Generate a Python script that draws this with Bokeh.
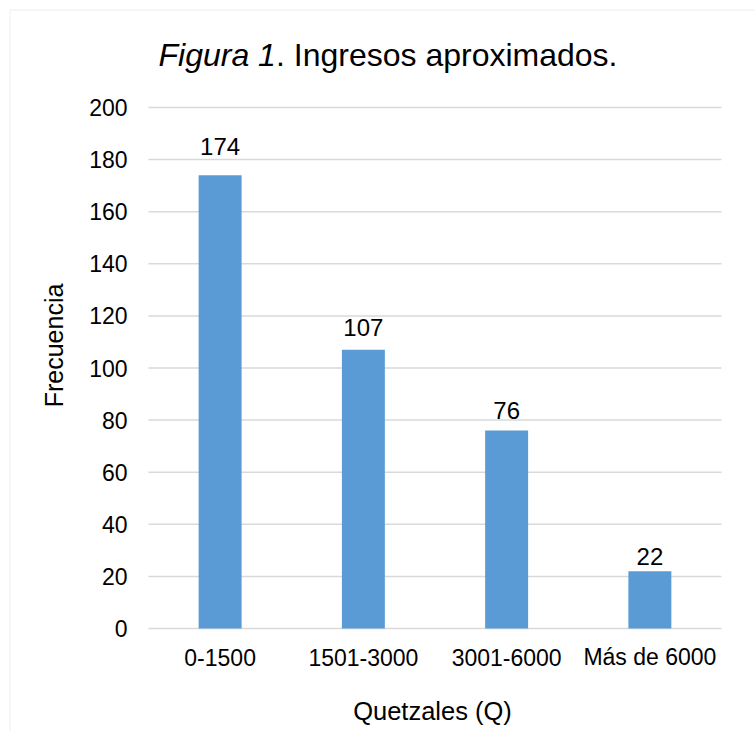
from bokeh.plotting import figure
from bokeh.models import ColumnDataSource, Range1d, Label, BoxAnnotation
from bokeh.core.properties import value
from bokeh.embed import file_html
from bokeh.resources import INLINE

# Income brackets (quetzales) and how many respondents fall in each
categories = ["0-1500", "1501-3000", "3001-6000", "Más de 6000"]
frequencies = [174, 107, 76, 22]
y_ticks = [0, 20, 40, 60, 80, 100, 120, 140, 160, 180, 200]

FONT = "Liberation Sans"
BAR_COLOR = "#5B9BD5"
GRID_COLOR = "#D9D9D9"
TEXT_COLOR = "#000000"

# Canvas size and the pixel box holding the bars (value axis 0..200)
W, H = 754, 731
LEFT, RIGHT, TOP, BOTTOM = 148, 721, 107, 628
N = len(categories)
Y_MAX = 200

# The plotting frame fills the whole canvas; ranges are widened so that
# categories 0..N and values 0..Y_MAX land on the box above.
px_per_x = (RIGHT - LEFT) / N
px_per_y = (BOTTOM - TOP) / Y_MAX
x_range = Range1d(-LEFT / px_per_x, N + (W - RIGHT) / px_per_x)
y_range = Range1d(-(H - BOTTOM) / px_per_y, Y_MAX + TOP / px_per_y)

p = figure(width=W, height=H, x_range=x_range, y_range=y_range,
           output_backend="svg", toolbar_location=None,
           x_axis_location=None, y_axis_location=None,
           min_border=0)
p.outline_line_color = None
p.background_fill_color = "white"
p.border_fill_color = "white"
p.xgrid.visible = False
p.ygrid.visible = False

centers = [i + 0.5 for i in range(N)]

# Horizontal gridlines across the category span
p.segment(x0=[0] * len(y_ticks), x1=[N] * len(y_ticks), y0=y_ticks, y1=y_ticks,
          line_color=GRID_COLOR, line_width=1.5)

# Value tick labels to the left of the gridlines
p.text(x=[0] * len(y_ticks), y=y_ticks, text=[str(t) for t in y_ticks],
       x_offset=-21, text_align="right", text_baseline="middle",
       text_font=value(FONT), text_font_size="23px", text_color=TEXT_COLOR)

# Bars; value labels sit a little higher above taller bars
bars = ColumnDataSource(data=dict(
    x=centers, freq=frequencies,
    label=[str(v) for v in frequencies],
    label_dy=[-(12.7 + 0.092 * v) for v in frequencies],
))
p.vbar(x="x", top="freq", bottom=0, width=0.3, source=bars,
       fill_color=BAR_COLOR, line_color=None)

p.text(x="x", y="freq", text="label", source=bars,
       y_offset="label_dy", text_align="center", text_baseline="middle",
       text_font=value(FONT), text_font_size="24px", text_color=TEXT_COLOR)

# Category names under the bars
p.text(x=centers, y=[0] * N, text=categories,
       y_offset=28.5, text_align="center", text_baseline="middle",
       text_font=value(FONT), text_font_size="23px", text_color=TEXT_COLOR)

# Title: italic figure number followed by the caption
# (Label screen units are pixels from the frame's bottom-left corner)
p.add_layout(Label(x=158, y=H - 54, x_units="screen", y_units="screen",
                   text="Figura 1", text_font=FONT, text_font_style="italic",
                   text_font_size="32px", text_color=TEXT_COLOR,
                   text_align="left", text_baseline="middle"))
p.add_layout(Label(x=275.5, y=H - 54, x_units="screen", y_units="screen",
                   text=". Ingresos aproximados.", text_font=FONT,
                   text_font_size="32px", text_color=TEXT_COLOR,
                   text_align="left", text_baseline="middle"))

# Axis titles
p.add_layout(Label(x=53, y=H - 345, x_units="screen", y_units="screen",
                   text="Frecuencia", angle=1.5707963, text_font=FONT,
                   text_font_size="25px", text_color=TEXT_COLOR,
                   text_align="center", text_baseline="middle"))
p.add_layout(Label(x=432, y=H - 710, x_units="screen", y_units="screen",
                   text="Quetzales (Q)", text_font=FONT,
                   text_font_size="25.5px", text_color=TEXT_COLOR,
                   text_align="center", text_baseline="middle"))

# Light chart-area border along the top and left edges
p.add_layout(BoxAnnotation(left=9.5, right=W + 20, top=H - 9.5, bottom=-20,
                           left_units="screen", right_units="screen",
                           top_units="screen", bottom_units="screen",
                           fill_color=None, line_color=GRID_COLOR,
                           line_width=1.5))

open("out.html", "w").write(file_html(p, INLINE))
